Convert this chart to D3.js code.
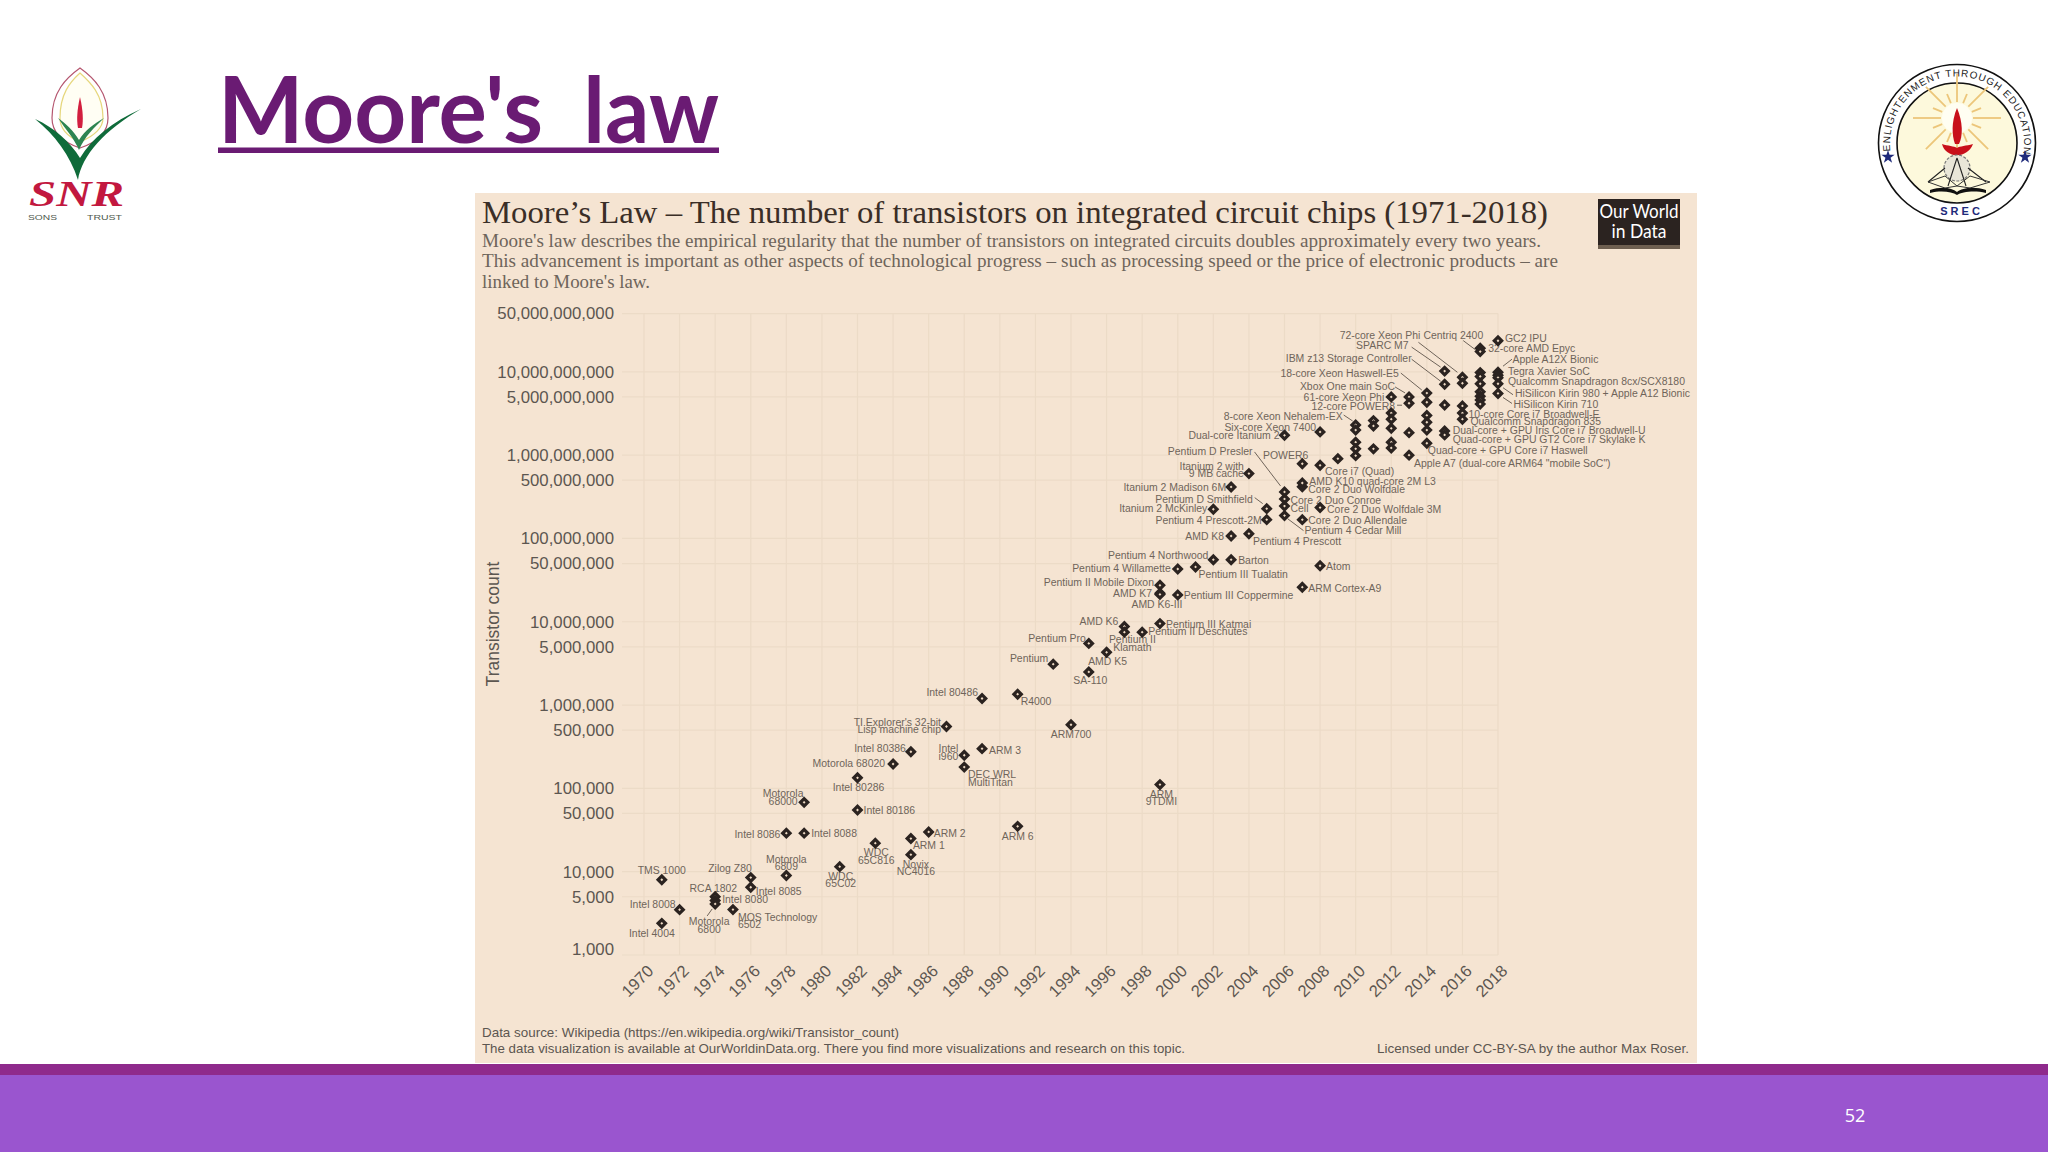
<!DOCTYPE html>
<html>
  <head>
    <meta charset="utf-8">
    <style>
      body { margin: 0; background: #fff; }
      svg { display: block; }
      .tick text { font-family: "Liberation Sans", sans-serif; fill: #5c5650; }
      .grid line { stroke: #ecdbc7; stroke-width: 1.2px; }
      .chip-label { font: 10.45px "Liberation Sans", sans-serif; fill: #6f645a; }
      .leader { stroke: #6f645a; stroke-width: 1px; fill: none; }
      .note { font: 13.5px "Liberation Sans", sans-serif; fill: #5c5650; }
    </style>
  </head>
  <body>
    <svg id="slide" width="2048" height="1152"></svg>
    <script src="https://cdnjs.cloudflare.com/ajax/libs/d3/7.8.5/d3.min.js"></script>
    <script>
      // chip names, years and transistor counts, same order in all three lists
      var chipNames = [
        "Intel 4004", "TMS 1000", "Intel 8008", "RCA 1802", "Intel 8080", "Motorola\n6800",
        "MOS Technology\n6502", "Zilog Z80", "Intel 8085", "Motorola\n6809", "Intel 8086",
        "Intel 8088", "Motorola\n68000", "WDC\n65C02", "Intel 80186", "Intel 80286",
        "WDC\n65C816", "Motorola 68020", "Intel 80386", "ARM 1", "Novix\nNC4016", "ARM 2",
        "TI Explorer's 32-bit\nLisp machine chip", "Intel\ni960", "DEC WRL\nMultiTitan",
        "Intel 80486", "ARM 3", "R4000", "ARM 6", "Pentium", "ARM700", "SA-110", "Pentium Pro",
        "AMD K5", "AMD K6", "Pentium II\nKlamath", "Pentium II Deschutes", "ARM\n9TDMI",
        "Pentium III Katmai", "Pentium II Mobile Dixon", "AMD K7", "AMD K6-III",
        "Pentium III Coppermine", "Pentium 4 Willamette", "Pentium III Tualatin",
        "Pentium 4 Northwood", "Itanium 2 McKinley", "Barton", "AMD K8", "Itanium 2 Madison 6M",
        "Pentium 4 Prescott", "Itanium 2 with\n9 MB cache", "Pentium 4 Prescott-2M",
        "Pentium D Smithfield", "Pentium 4 Cedar Mill", "Cell", "Core 2 Duo Conroe",
        "Pentium D Presler", "Dual-core Itanium 2", "Core 2 Duo Allendale", "Core 2 Duo Wolfdale",
        "AMD K10 quad-core 2M L3", "ARM Cortex-A9", "POWER6", "Core 2 Duo Wolfdale 3M", "Atom",
        "Core i7 (Quad)", "Six-core Xeon 7400", "",
        "8-core Xeon Nehalem-EX", "", "", "", "",
        "", "", "",
        "61-core Xeon Phi", "", "", "", "", "",
        "Xbox One main SoC", "12-core POWER8", "", "Apple A7 (dual-core ARM64 \"mobile SoC\")",
        "18-core Xeon Haswell-E5", "", "", "", "", "Quad-core + GPU Core i7 Haswell",
        "SPARC M7", "IBM z13 Storage Controller", "", "Dual-core + GPU Iris Core i7 Broadwell-U",
        "Quad-core + GPU GT2 Core i7 Skylake K",
        "72-core Xeon Phi", "", "", "10-core Core i7 Broadwell-E", "Qualcomm Snapdragon 835",
        "32-core AMD Epyc", "Centriq 2400", "", "", "", "", "", "", "",
        "GC2 IPU", "Apple A12X Bionic", "Tegra Xavier SoC", "Qualcomm Snapdragon 8cx/SCX8180",
        "HiSilicon Kirin 980 + Apple A12 Bionic", "HiSilicon Kirin 710"
      ];
      var chipYears = [
        1971, 1971, 1972, 1974, 1974, 1974,
        1975, 1976, 1976, 1978, 1978,
        1979, 1979, 1981, 1982, 1982,
        1983, 1984, 1985, 1985, 1985, 1986,
        1987, 1988, 1988,
        1989, 1989, 1991, 1991, 1993, 1994, 1995, 1995,
        1996, 1997, 1997, 1998, 1999,
        1999, 1999, 1999, 1999,
        2000, 2000, 2001,
        2002, 2002, 2003, 2003, 2003,
        2004, 2004, 2005,
        2005, 2006, 2006, 2006,
        2006, 2006, 2007, 2007,
        2007, 2007, 2007, 2008, 2008,
        2008, 2008, 2009,
        2010, 2010, 2010, 2010, 2010,
        2011, 2011, 2011,
        2012, 2012, 2012, 2012, 2012, 2012,
        2013, 2013, 2013, 2013,
        2014, 2014, 2014, 2014, 2014, 2014,
        2015, 2015, 2015, 2015,
        2015,
        2016, 2016, 2016, 2016, 2016,
        2017, 2017, 2017, 2017, 2017, 2017, 2017, 2017, 2017,
        2018, 2018, 2018, 2018,
        2018, 2018
      ];
      var chipCounts = [
        2400, 8000, 3500, 5000, 4500, 4100,
        3510, 8500, 6500, 9000, 29000,
        29000, 68000, 11500, 55000, 134000,
        22000, 196000, 275000, 25000, 16000, 30000,
        553000, 250000, 180000,
        1200000, 300000, 1350000, 35000, 3100000, 580000, 2500000, 5500000,
        4300000, 8800000, 7500000, 7500000, 111000,
        9500000, 27400000, 22000000, 21300000,
        21000000, 43000000, 45500000,
        55600000, 224000000, 55600000, 107000000, 415000000,
        114000000, 600000000, 168000000,
        228000000, 188000000, 245000000, 298000000,
        362000000, 1730000000, 168000000, 417000000,
        463000000, 26000000, 789000000, 235000000, 47000000,
        755000000, 1900000000, 908000000,
        2300000000, 2000000000, 1430000000, 1190000000, 986000000,
        2600000000, 2240000000, 1190000000,
        5000000000, 3200000000, 2700000000, 2100000000, 1430000000, 1220000000,
        5000000000, 4200000000, 1860000000, 1000000000,
        5560000000, 4310000000, 3000000000, 2480000000, 2000000000, 1390000000,
        10200000000, 7100000000, 4000000000, 1950000000,
        1750000000,
        8600000000, 7300000000, 3900000000, 3200000000, 2700000000,
        19200000000, 17500000000, 9800000000, 8800000000, 7200000000, 5750000000, 5100000000, 4600000000, 4100000000,
        23600000000, 9900000000, 9100000000, 8500000000,
        7200000000, 5500000000
      ];
      var yTicks = [1000, 5000, 10000, 50000, 100000, 500000, 1000000, 5000000, 10000000, 50000000,
        100000000, 500000000, 1000000000, 5000000000, 10000000000, 50000000000];
      var xTicks = d3.range(1970, 2019, 2);

      // where each label sits relative to its diamond: dx, dy, anchor
      var labelSpots = {
        "Intel 4004": [13, 14, "end"], "TMS 1000": [24, -6, "end"], "Intel 8008": [-4, -2, "end"],
        "RCA 1802": [22, -5, "end"], "Intel 8080": [7, 2, "start"], "Motorola\n6800": [-6, 21, "middle"],
        "MOS Technology\n6502": [5, 11, "start"], "Zilog Z80": [1, -5.5, "end"], "Intel 8085": [5, 8, "start"],
        "Motorola\n6809": [0, -13, "middle"], "Intel 8086": [-6, 5, "end"], "Intel 8088": [7, 4, "start"],
        "Motorola\n68000": [-21, -5, "middle"], "WDC\n65C02": [1, 13, "middle"], "Intel 80186": [6, 4, "start"],
        "Intel 80286": [1, 13, "middle"], "WDC\n65C816": [1, 13, "middle"], "Motorola 68020": [-8, 3, "end"],
        "Intel 80386": [-5, 0, "end"], "ARM 1": [2, 10, "start"], "Novix\nNC4016": [5, 13, "middle"],
        "ARM 2": [5, 5, "start"], "TI Explorer's 32-bit\nLisp machine chip": [-5.5, -1, "end"],
        "Intel\ni960": [-6, -3, "end"], "DEC WRL\nMultiTitan": [3.7, 11, "start"], "Intel 80486": [-4, -2, "end"],
        "ARM 3": [7, 5, "start"], "R4000": [3, 11, "start"], "ARM 6": [0, 14, "middle"], "Pentium": [-5, -2, "end"],
        "ARM700": [0, 13, "middle"], "SA-110": [1.5, 12, "middle"], "Pentium Pro": [-3, -1, "end"],
        "AMD K5": [1, 13, "middle"], "AMD K6": [-6, -1, "end"], "Pentium II\nKlamath": [8, 10.7, "middle"],
        "Pentium II Deschutes": [6, 3, "start"], "ARM\n9TDMI": [1.5, 13, "middle"], "Pentium III Katmai": [6, 4, "start"],
        "Pentium II Mobile Dixon": [-6, 1, "end"], "AMD K7": [-8, 4, "end"], "AMD K6-III": [-3, 14, "middle"],
        "Pentium III Coppermine": [6, 4, "start"], "Pentium 4 Willamette": [-7, 3, "end"],
        "Pentium III Tualatin": [3, 11, "start"], "Pentium 4 Northwood": [-5, -1, "end"],
        "Itanium 2 McKinley": [-6, 3, "end"], "Barton": [7, 4, "start"], "AMD K8": [-7, 4, "end"],
        "Itanium 2 Madison 6M": [-5, 4, "end"], "Pentium 4 Prescott": [4, 11.6, "start"],
        "Itanium 2 with\n9 MB cache": [-5, -4, "end"], "Pentium 4 Prescott-2M": [-5, 4, "end"],
        "Pentium D Smithfield": [-14, -6, "end"], "Pentium 4 Cedar Mill": [20, 18, "start"], "Cell": [6, 5.5, "start"],
        "Core 2 Duo Conroe": [6, 5, "start"], "Pentium D Presler": [-32, -37, "end"],
        "Dual-core Itanium 2": [-5, 4, "end"], "Core 2 Duo Allendale": [6, 4, "start"],
        "Core 2 Duo Wolfdale": [6, 6, "start"], "AMD K10 quad-core 2M L3": [7, 2, "start"],
        "ARM Cortex-A9": [6, 5, "start"], "POWER6": [6, -5, "end"], "Core 2 Duo Wolfdale 3M": [7, 5, "start"],
        "Atom": [6, 4, "start"], "Core i7 (Quad)": [5, 10, "start"], "Six-core Xeon 7400": [-4, -1, "end"],
        "8-core Xeon Nehalem-EX": [-13, -5, "end"], "61-core Xeon Phi": [-7, 4, "end"],
        "Xbox One main SoC": [-14, -6.7, "end"], "12-core POWER8": [-14, 6.7, "end"],
        "Apple A7 (dual-core ARM64 \"mobile SoC\")": [5, 11.7, "start"], "18-core Xeon Haswell-E5": [-28, -16, "end"],
        "Quad-core + GPU Core i7 Haswell": [1, 11, "start"], "SPARC M7": [-36, -22.6, "end"],
        "IBM z13 Storage Controller": [-33, -22.6, "end"], "Dual-core + GPU Iris Core i7 Broadwell-U": [8, 3, "start"],
        "Quad-core + GPU GT2 Core i7 Skylake K": [8, 8, "start"], "72-core Xeon Phi": [-42, -38, "end"],
        "10-core Core i7 Broadwell-E": [6, 5, "start"], "Qualcomm Snapdragon 835": [8, 6, "start"],
        "32-core AMD Epyc": [8, 4, "start"], "Centriq 2400": [3, -12.7, "end"], "GC2 IPU": [7, 1, "start"],
        "Apple A12X Bionic": [14.5, -9.6, "start"], "Tegra Xavier SoC": [10, 0, "start"],
        "Qualcomm Snapdragon 8cx/SCX8180": [10, 7, "start"],
        "HiSilicon Kirin 980 + Apple A12 Bionic": [17, 13.7, "start"], "HiSilicon Kirin 710": [15.5, 14.7, "start"]
      };
      // leader lines, offsets from the diamond: x1, y1, x2, y2
      var leaders = {
        "Pentium D Presler": [-30, -40, -4, -6], "8-core Xeon Nehalem-EX": [-12, -10, -3, -4],
        "12-core POWER8": [-12, 2, -7, 2], "Xbox One main SoC": [-14, -10, -4, -4],
        "18-core Xeon Haswell-E5": [-26, -20, -5, -3], "IBM z13 Storage Controller": [-33, -25, -4, -3],
        "SPARC M7": [-33, -24, -4, -4], "72-core Xeon Phi": [-44, -35, -5, -5], "Centriq 2400": [-17, -11, -5, -2],
        "Apple A12X Bionic": [14, -13, 5, -6], "HiSilicon Kirin 980 + Apple A12 Bionic": [15, 11, 5, 4],
        "HiSilicon Kirin 710": [14, 10, 5, 4], "Pentium D Smithfield": [-12, -11, -4, -5],
        "Pentium 4 Cedar Mill": [19, 15, 3, 3], "Motorola\n6800": [-8, 12, -3, 5]
      };

      var chips = chipNames.map(function(name, i) {
        return { name: name, year: chipYears[i], count: chipCounts[i] };
      });

      var svg = d3.select("#slide");

      var defs = svg.append("defs");
      defs.append("filter").attr("id", "soft").append("feGaussianBlur").attr("stdDeviation", 1.1);

      // slide furniture
      svg.append("rect").attr("width", 2048).attr("height", 1152).attr("fill", "#fff");
      svg.append("line")
        .attr("x1", 188).attr("x2", 1862).attr("y1", 230).attr("y2", 230)
        .attr("stroke", "#7f7f7f").attr("stroke-width", 4.5).attr("filter", "url(#soft)");
      var slideTitle = svg.append("text").attr("y", 143)
        .style("font", "700 92px Lato, sans-serif").style("fill", "#6a1b73");
      slideTitle.append("tspan").text("Moore's").attr("x", 218)
        .attr("textLength", 325).attr("lengthAdjust", "spacingAndGlyphs");
      slideTitle.append("tspan").text(" law").attr("x", 562)
        .attr("textLength", 157).attr("lengthAdjust", "spacingAndGlyphs");
      svg.append("rect").attr("x", 218).attr("y", 147.5).attr("width", 501).attr("height", 5.5).attr("fill", "#6a1b73");
      svg.append("rect").attr("x", 0).attr("y", 1064).attr("width", 2048).attr("height", 11).attr("fill", "#8f2a8c");
      svg.append("rect").attr("x", 0).attr("y", 1075).attr("width", 2048).attr("height", 77).attr("fill", "#9a55cf");
      svg.append("text").text("52").attr("x", 1855).attr("y", 1122).attr("text-anchor", "middle")
        .style("font", "18px 'Open Sans', sans-serif").style("fill", "#fff");

      drawTrustLogo(svg.append("g"));
      drawCollegeLogo(svg.append("g"));

      // the chart panel
      svg.append("rect").attr("x", 475).attr("y", 193).attr("width", 1222).attr("height", 870).attr("fill", "#f5e4d2");

      var panel = svg.append("g");
      panel.append("text").text("Moore’s Law – The number of transistors on integrated circuit chips (1971-2018)")
        .attr("x", 482).attr("y", 223)
        .attr("textLength", 1066).attr("lengthAdjust", "spacingAndGlyphs")
        .style("font", "32px 'Liberation Serif', serif").style("fill", "#3a2e27");

      var subLines = [
        ["Moore's law describes the empirical regularity that the number of transistors on integrated circuits doubles approximately every two years.", 247, 1059],
        ["This advancement is important as other aspects of technological progress – such as processing speed or the price of electronic products – are", 267, 1076],
        ["linked to Moore's law.", 288, 168]
      ];
      panel.selectAll(".sub").data(subLines).enter().append("text")
        .attr("class", "sub")
        .text(function(d) { return d[0]; })
        .attr("x", 482).attr("y", function(d) { return d[1]; })
        .attr("textLength", function(d) { return d[2]; }).attr("lengthAdjust", "spacingAndGlyphs")
        .style("font", "18px 'Liberation Serif', serif").style("fill", "#6e645b");

      // Our World in Data badge
      panel.append("rect").attr("x", 1598).attr("y", 199).attr("width", 82).attr("height", 50).attr("fill", "#2b2320");
      panel.append("rect").attr("x", 1598).attr("y", 245).attr("width", 82).attr("height", 4).attr("fill", "#6e5f50");
      panel.append("text").text("Our World").attr("x", 1639).attr("y", 218).attr("text-anchor", "middle")
        .attr("textLength", 79).attr("lengthAdjust", "spacingAndGlyphs")
        .style("font", "400 19px Lato, sans-serif").style("fill", "#fff");
      panel.append("text").text("in Data").attr("x", 1639).attr("y", 238).attr("text-anchor", "middle")
        .attr("textLength", 55).attr("lengthAdjust", "spacingAndGlyphs")
        .style("font", "400 19px Lato, sans-serif").style("fill", "#fff");

      var x = d3.scaleLinear().domain([1970, 2018]).range([644, 1498]);
      var y = d3.scaleLog().domain([1000, 50000000000]).range([955, 313.6]);

      // gridlines
      var grid = panel.append("g").attr("class", "grid");
      grid.selectAll(".h").data(yTicks).enter().append("line")
        .attr("x1", 622).attr("x2", x(2018))
        .attr("y1", function(d) { return y(d); }).attr("y2", function(d) { return y(d); });
      grid.selectAll(".v").data(xTicks).enter().append("line")
        .attr("x1", function(d) { return x(d); }).attr("x2", function(d) { return x(d); })
        .attr("y1", y.range()[1]).attr("y2", y.range()[0]);

      // axes
      var yAxis = panel.append("g").attr("transform", "translate(622,0)")
        .call(d3.axisLeft(y).tickValues(yTicks).tickFormat(d3.format(",")).tickSize(0).tickPadding(8));
      yAxis.select(".domain").remove();
      yAxis.selectAll("text").style("font-size", "16.8px");
      yAxis.selectAll(".tick").filter(function(d) { return d === 1000; }).select("text").attr("dy", "-0.03em");

      var xAxis = panel.append("g").attr("transform", "translate(0,955)")
        .call(d3.axisBottom(x).tickValues(xTicks).tickFormat(d3.format("d")).tickSize(0));
      xAxis.select(".domain").remove();
      xAxis.selectAll("text")
        .attr("y", 0).attr("dy", 0)
        .attr("text-anchor", "end")
        .attr("transform", "translate(10,17) rotate(-45)")
        .style("font-size", "16.5px");

      panel.append("text").text("Transistor count")
        .attr("transform", "translate(499,624) rotate(-90)").attr("text-anchor", "middle")
        .style("font", "17.5px 'Liberation Sans', sans-serif").style("fill", "#5c5650");

      // leader lines and labels under the diamonds
      var withLeader = chips.filter(function(d) { return leaders[d.name]; });
      panel.selectAll(".leader").data(withLeader).enter().append("line")
        .attr("class", "leader")
        .attr("x1", function(d) { return x(d.year) + leaders[d.name][0]; })
        .attr("y1", function(d) { return y(d.count) + leaders[d.name][1]; })
        .attr("x2", function(d) { return x(d.year) + leaders[d.name][2]; })
        .attr("y2", function(d) { return y(d.count) + leaders[d.name][3]; });

      var named = chips.filter(function(d) { return d.name !== ""; });
      var labels = panel.selectAll(".chip-label").data(named).enter().append("text")
        .attr("class", "chip-label")
        .attr("text-anchor", function(d) { return labelSpots[d.name][2]; })
        .attr("transform", function(d) {
          var s = labelSpots[d.name];
          return "translate(" + (x(d.year) + s[0]) + "," + (y(d.count) + s[1]) + ")";
        });
      labels.selectAll("tspan").data(function(d) { return d.name.split("\n"); }).enter().append("tspan")
        .attr("x", 0)
        .attr("dy", function(d, i) { return i ? 7.8 : 0; })
        .text(function(d) { return d; });

      panel.selectAll(".dot").data(chips).enter().append("path")
        .attr("class", "dot")
        .attr("d", d3.symbol().type(d3.symbolSquare).size(27))
        .attr("transform", function(d) { return "translate(" + x(d.year) + "," + y(d.count) + ") rotate(45)"; })
        .attr("fill", "#f0dcc6").attr("stroke", "#2b2320").attr("stroke-width", 3.2);

      // sources
      panel.append("text").attr("class", "note").text("Data source: Wikipedia (https://en.wikipedia.org/wiki/Transistor_count)")
        .attr("x", 482).attr("y", 1037).attr("textLength", 417).attr("lengthAdjust", "spacingAndGlyphs");
      panel.append("text").attr("class", "note").text("The data visualization is available at OurWorldinData.org. There you find more visualizations and research on this topic.")
        .attr("x", 482).attr("y", 1053).attr("textLength", 703).attr("lengthAdjust", "spacingAndGlyphs");
      panel.append("text").attr("class", "note").text("Licensed under CC-BY-SA by the author Max Roser.")
        .attr("x", 1377).attr("y", 1053).attr("textLength", 312).attr("lengthAdjust", "spacingAndGlyphs");

      function drawTrustLogo(g) {
        g.append("path").attr("d", "M80,68 C66,78 52,92 52,118 C52,128 56,140 80,148 C104,140 108,128 108,118 C108,92 94,78 80,68Z")
          .attr("fill", "#fff").attr("stroke", "#b5566f").attr("stroke-width", 1.2);
        g.append("path").attr("d", "M80,73 C70,82 60,94 60,118 C60,128 66,136 80,142 C94,136 103,128 103,118 C103,94 90,82 80,73Z")
          .attr("fill", "#fffef4").attr("stroke", "#e6d77c").attr("stroke-width", 1.2);
        g.append("path").attr("d", "M80,97 C77,110 76.5,120 78,128 L82,128 C83.5,120 83,110 80,97Z").attr("fill", "#d21f3f");
        g.append("path").attr("d", "M35,119 C55,135 70,155 78,180 C82,155 105,130 141,109 C112,122 92,138 80,158 C70,142 55,128 35,119Z").attr("fill", "#0f6b3a");
        g.append("path").attr("d", "M58,118 C66,130 74,138 79,150 C85,136 94,128 104,118 C94,124 85,130 79,140 C73,130 66,124 58,118Z").attr("fill", "#2d8450");
        g.append("text").text("SNR").attr("x", 29).attr("y", 206)
          .attr("textLength", 95).attr("lengthAdjust", "spacingAndGlyphs")
          .style("font", "italic bold 36px 'Liberation Serif', serif").style("fill", "#c2183f");
        g.append("text").text("SONS").attr("x", 28).attr("y", 220)
          .attr("textLength", 29).attr("lengthAdjust", "spacingAndGlyphs")
          .style("font", "7.5px 'Liberation Sans', sans-serif").style("fill", "#4f5a4e");
        g.append("text").text("TRUST").attr("x", 87).attr("y", 220)
          .attr("textLength", 35).attr("lengthAdjust", "spacingAndGlyphs")
          .style("font", "7.5px 'Liberation Sans', sans-serif").style("fill", "#4f5a4e");
      }

      function drawCollegeLogo(g) {
        var cx = 1957, cy = 143;
        g.append("circle").attr("cx", cx).attr("cy", cy).attr("r", 78.5).attr("fill", "#fff").attr("stroke", "#111").attr("stroke-width", 1.6);
        g.append("circle").attr("cx", cx).attr("cy", cy).attr("r", 60).attr("fill", "#fdf9dc").attr("stroke", "#111").attr("stroke-width", 1.6);

        // rays around the flame
        var rayAngles = d3.range(0, 360, 22.5);
        g.selectAll(".ray").data(rayAngles).enter().append("line")
          .attr("x1", function(a) { return cx + 16 * Math.cos(a * Math.PI / 180); })
          .attr("y1", function(a) { return 118 + 16 * Math.sin(a * Math.PI / 180); })
          .attr("x2", function(a, i) { return cx + (i % 2 ? 26 : 44) * Math.cos(a * Math.PI / 180); })
          .attr("y2", function(a, i) { return 118 + (i % 2 ? 26 : 44) * Math.sin(a * Math.PI / 180); })
          .attr("stroke", "#ecc67a").attr("stroke-width", 1.8);
        g.append("circle").attr("cx", cx).attr("cy", 118).attr("r", 15).attr("fill", "#fffef2");

        g.append("path").attr("d", "M1957,108 C1951,122 1952,136 1955,144 L1959,144 C1963,136 1963,122 1957,108Z").attr("fill", "#c8101a");
        g.append("path").attr("d", "M1942,144 C1948,146 1954,146 1957,148 C1960,146 1966,146 1973,144 C1970,152 1964,154 1957,156 C1950,154 1944,152 1942,144Z").attr("fill", "#c8101a");

        // gear and book
        g.append("circle").attr("cx", 1957).attr("cy", 168).attr("r", 13).attr("fill", "#e9e6d8").attr("stroke", "#777").attr("stroke-width", 1.2).attr("stroke-dasharray", "3,1.5");
        g.append("path").attr("d", "M1928,182 L1945,168 M1986,182 L1968,168 M1957,158 L1948,186 M1957,158 L1966,186").attr("stroke", "#222").attr("stroke-width", 1.1).attr("fill", "none");
        g.append("path").attr("d", "M1930,190 C1942,186 1952,188 1957,192 C1962,188 1974,186 1986,190 L1986,193 C1974,190 1962,192 1957,195 C1952,192 1942,190 1930,193Z").attr("fill", "#111");
        g.append("path").attr("d", "M1928,182 L1945,176 L1957,186 L1970,176 L1990,182 L1970,188 L1957,186 L1945,188Z").attr("fill", "none").attr("stroke", "#333").attr("stroke-width", 1);

        // ring text
        defs.append("path").attr("id", "ring")
          .attr("d", "M" + (cx - 66) + "," + (cy + 12) + " A67,67 0 1 1 " + (cx + 66) + "," + (cy + 12));
        g.append("text").append("textPath").attr("href", "#ring").attr("startOffset", 4)
          .attr("textLength", 228).attr("lengthAdjust", "spacing")
          .text("ENLIGHTENMENT THROUGH EDUCATION")
          .style("font", "10px 'Liberation Sans', sans-serif").style("fill", "#222");
        g.append("text").text("S R E C").attr("x", cx + 3).attr("y", 215).attr("text-anchor", "middle")
          .style("font", "bold 11px 'Liberation Sans', sans-serif").style("fill", "#1f2a7a");
        var starAt = [1888, 2025];
        g.selectAll(".star").data(starAt).enter().append("path")
          .attr("d", d3.symbol().type(d3.symbolStar).size(55))
          .attr("transform", function(d) { return "translate(" + d + ",157)"; })
          .attr("fill", "#1f2a7a");
      }
    </script>
  </body>
</html>
